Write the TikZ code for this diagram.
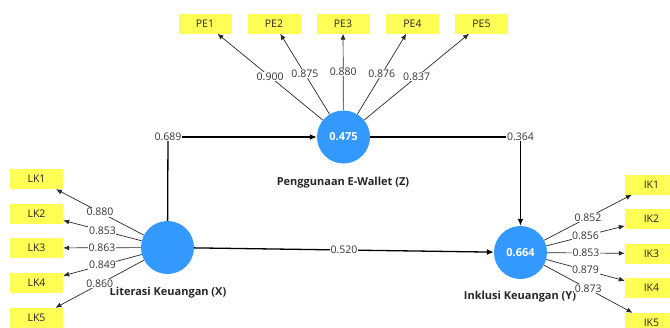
\documentclass[tikz,border=0pt]{standalone}
\usepackage{fontspec}
\setmainfont{Open Sans}
\usetikzlibrary{arrows.meta}
\definecolor{lvblue}{RGB}{51,153,255}
\definecolor{indyel}{RGB}{255,255,85}
\definecolor{lnk}{RGB}{40,40,40}
\tikzset{
  lv/.style={circle,fill=lvblue,minimum size=53pt,inner sep=0pt,text=white,font=\fontsize{11}{12}\selectfont\bfseries},
  ind/.style={rectangle,fill=indyel,minimum width=53pt,minimum height=20pt,inner sep=0pt,font=\fontsize{10.5}{12}\selectfont,text=black!85},
  lvname/.style={font=\fontsize{11}{12}\selectfont\bfseries,text=black!85},
  load/.style={draw=lnk,line width=0.7pt,-{Latex[length=6pt,width=5pt]}},
  path/.style={draw=black,line width=1.3pt,-{Latex[length=7pt,width=6pt]}},
  pathnoarr/.style={draw=black,line width=1.3pt},
  wl/.style={fill=white,inner sep=0.6pt,font=\fontsize{10.5}{12}\selectfont,text=black!80}
}
\begin{document}
\begin{tikzpicture}[x=1pt,y=-1pt]
\useasboundingbox (0,0) rectangle (670,327);
% latent variables
\node[lv] (Z) at (343.5,137) {0.475};
\node[lv] (X) at (167.5,247.5) {};
\node[lv] (Y) at (520.5,252.5) {0.664};
\node[lvname] (Zn) at (343,183) {Penggunaan E-Wallet (Z)};
\node[lvname] (Xn) at (168,293) {Literasi Keuangan (X)};
\node[lvname] (Yn) at (520,297) {Inklusi Keuangan (Y)};
% indicators
\node[ind] (PE1) at (205,23.5) {PE1};
\node[ind] (PE2) at (274,23.5) {PE2};
\node[ind] (PE3) at (343,23.5) {PE3};
\node[ind] (PE4) at (412.5,23.5) {PE4};
\node[ind] (PE5) at (481.5,23.5) {PE5};
\node[ind] (LK1) at (36.5,179) {LK1};
\node[ind] (LK2) at (36.5,213.5) {LK2};
\node[ind] (LK3) at (36.5,248) {LK3};
\node[ind] (LK4) at (36.5,283) {LK4};
\node[ind] (LK5) at (36.5,318) {LK5};
\node[ind] (IK1) at (651.5,184.5) {IK1};
\node[ind] (IK2) at (651.5,219) {IK2};
\node[ind] (IK3) at (651.5,253.5) {IK3};
\node[ind] (IK4) at (651.5,288) {IK4};
\node[ind] (IK5) at (651.5,323) {IK5};
% loadings
\draw[load] (Z) -- node[wl,pos=0.5]{0.900} (PE1);
\draw[load] (Z) -- node[wl,pos=0.5]{0.875} (PE2);
\draw[load] (Z) -- node[wl,pos=0.5]{0.880} (PE3);
\draw[load] (Z) -- node[wl,pos=0.5]{0.876} (PE4);
\draw[load] (Z) -- node[wl,pos=0.5]{0.837} (PE5);
\draw[load] (X) -- node[wl,pos=0.5]{0.880} (LK1);
\draw[load] (X) -- node[wl,pos=0.5]{0.853} (LK2);
\draw[load] (X) -- node[wl,pos=0.5]{0.863} (LK3);
\draw[load] (X) -- node[wl,pos=0.5]{0.849} (LK4);
\draw[load] (X) -- node[wl,pos=0.5]{0.860} (LK5);
\draw[load] (Y) -- node[wl,pos=0.5]{0.852} (IK1);
\draw[load] (Y) -- node[wl,pos=0.5]{0.856} (IK2);
\draw[load] (Y) -- node[wl,pos=0.5]{0.853} (IK3);
\draw[load] (Y) -- node[wl,pos=0.5]{0.879} (IK4);
\draw[load] (Y) -- node[wl,pos=0.5]{0.873} (IK5);
% structural paths
\coordinate (cXZ) at (168,137);
\coordinate (cZY) at (520.5,137);
\draw[pathnoarr] (X) -- (cXZ);
\draw[path] (cXZ) -- (Z);
\node[wl] (lXZ) at (cXZ) {0.689};
\draw[pathnoarr] (Z) -- (cZY);
\draw[path] (cZY) -- (Y);
\node[wl] (lZY) at (cZY) {0.364};
\draw[path] (X) -- node[wl,pos=0.5]{0.520} (Y);
\end{tikzpicture}
\end{document}
